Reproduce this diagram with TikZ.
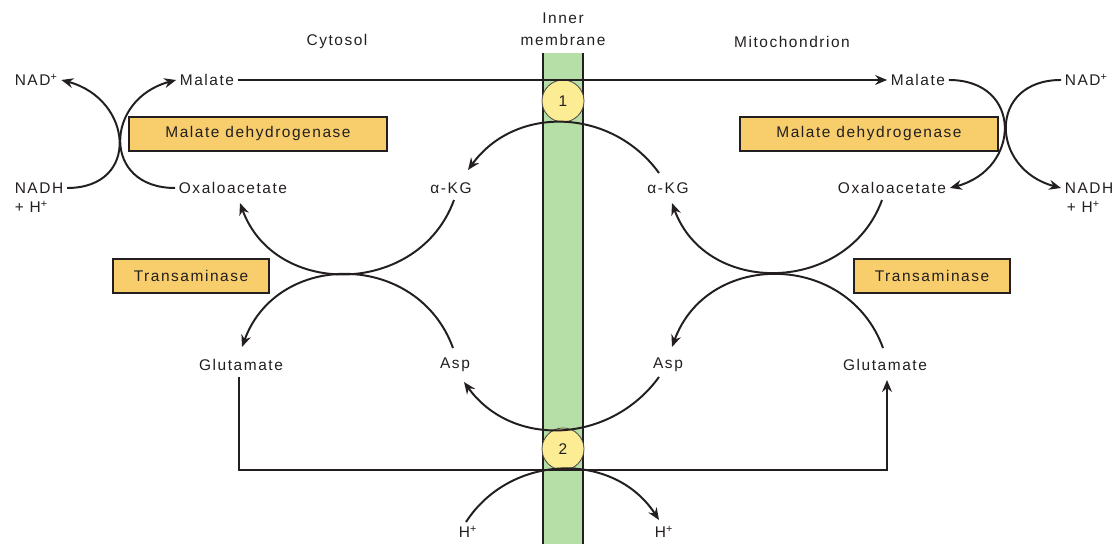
\documentclass[tikz,border=0pt]{standalone}
\usepackage{fontspec}
\setmainfont{Liberation Sans}
\newfontfamily\lblfont{Liberation Sans}[LetterSpace=10]
\usepackage{tikz}
\usetikzlibrary{positioning,arrows.meta,calc}
\definecolor{memGreen}{HTML}{B5DFA6}
\definecolor{enzOrange}{HTML}{F8CE6C}
\definecolor{siteYellow}{HTML}{FCEC94}
\definecolor{inkGray}{HTML}{231F20}

\begin{document}
\begin{tikzpicture}[
    x=0.025cm, y=0.025cm,
    lbl/.style={font=\lblfont\fontsize{11}{13}\selectfont, inner sep=2.5pt, text=inkGray},
    enz/.style={lbl, draw=inkGray, line width=1.4pt, fill=enzOrange, minimum height=0.85cm, inner sep=0pt},
    site/.style={lbl, circle, draw=inkGray!80, line width=0.6pt, fill=siteYellow, minimum size=1.05cm, inner sep=0pt},
    arr/.style={-{Stealth[length=8.5pt,width=7pt]}, line width=1.4pt, draw=inkGray},
    ln/.style={line width=1.4pt, draw=inkGray}
  ]
  \useasboundingbox (0,0) rectangle (1115,544);

  \fill[memGreen] (543,0) rectangle (583,491);
  \draw[line width=1.1pt, inkGray] (543,0) -- (543,491) (583,0) -- (583,491);

  \node[lbl, align=center] (inner) at (563,515) {Inner\\[2.6pt]membrane};
  \node[lbl] (cyto) at (337,502) {Cytosol};
  \node[lbl] (mito) at (792,502) {Mitochondrion};

  % cytosol side
  \node[lbl, anchor=west] (nadL) at (11,464) {NAD\textsuperscript{+}};
  \node[lbl] (malL) at (207,464) {Malate};
  \node[lbl, anchor=west] (nadhL) at (11,356) {NADH};
  \node[lbl, anchor=west] (hhL) at (11,337) {+ H\textsuperscript{+}};
  \node[lbl] (oaaL) at (233,356) {Oxaloacetate};
  \node[lbl] (akgL) at (451,356) {α-KG};
  \node[lbl] (gluL) at (241,179) {Glutamate};
  \node[lbl] (aspL) at (455,179) {Asp};
  \node[lbl] (hL) at (468,12) {H\textsuperscript{+}};
  \node[enz, minimum width=6.45cm] (mdhL) at (258,410) {Malate dehydrogenase};
  \node[enz, minimum width=3.9cm] (taL) at (191,268) {Transaminase};

  % mitochondrion side
  \node[lbl] (malR) at (918,464) {Malate};
  \node[lbl, anchor=west] (nadR) at (1061,464) {NAD\textsuperscript{+}};
  \node[lbl] (oaaR) at (892,356) {Oxaloacetate};
  \node[lbl, anchor=west] (nadhR) at (1061,356) {NADH};
  \node[lbl, anchor=west] (hhR) at (1063,337) {+ H\textsuperscript{+}};
  \node[lbl] (akgR) at (668,356) {α-KG};
  \node[lbl] (aspR) at (668,179) {Asp};
  \node[lbl] (gluR) at (885,179) {Glutamate};
  \node[lbl] (hR) at (664,12) {H\textsuperscript{+}};
  \node[enz, minimum width=6.45cm] (mdhR) at (869,410) {Malate dehydrogenase};
  \node[enz, minimum width=3.9cm] (taR) at (932,268) {Transaminase};

  \node[site] (p1) at (563,443) {1};
  \node[site] (p2) at (563,95) {2};

  % malate dehydrogenase
  \draw[arr] (nadhL.east) to[out=0,in=-15,looseness=1.75] (nadL.east);
  \draw[arr] (oaaL.west) to[out=180,in=195,looseness=1.75] (malL.west);
  \draw[arr] (malR.east) to[out=0,in=15,looseness=1.75] (oaaR.east);
  \draw[arr] (nadR.west) to[out=180,in=165,looseness=1.75] (nadhR.west);

  % transaminase
  \draw[arr] ([shift={(3,-12)}]akgL.center) to[out=-110,in=-70,looseness=1.22] ([shift={(7,-15)}]oaaL.center);
  \draw[arr] ([shift={(-2,17)}]aspL.center) to[out=110,in=70,looseness=1.25] ([shift={(1,18)}]gluL.center);
  \draw[arr] ([shift={(-10,-12)}]oaaR.center) to[out=-110,in=-70,looseness=1.22] ([shift={(4,-15)}]akgR.center);
  \draw[arr] ([shift={(-2,17)}]gluR.center) to[out=110,in=70,looseness=1.25] ([shift={(4,18)}]aspR.center);

  % carriers
  \draw[arr] (malL.east) -- (malR.west);
  \draw[arr] ([shift={(-9,15)}]akgR.center) to[out=126,in=54,looseness=1.08] ([shift={(17,18)}]akgL.center);
  \draw[arr] ([shift={(-9,-12)}]aspR.center) to[out=-126,in=-54,looseness=1.08] ([shift={(9,-17)}]aspL.center);
  \draw[arr] ([shift={(-2,-12)}]gluL.center) |- (p2.south) -| ([shift={(2,-15)}]gluR.center);
  \draw[arr] ([shift={(-2,10)}]hL.center) to[out=57,in=123,looseness=1.09] ([shift={(-5,12)}]hR.center);
\end{tikzpicture}
\end{document}
